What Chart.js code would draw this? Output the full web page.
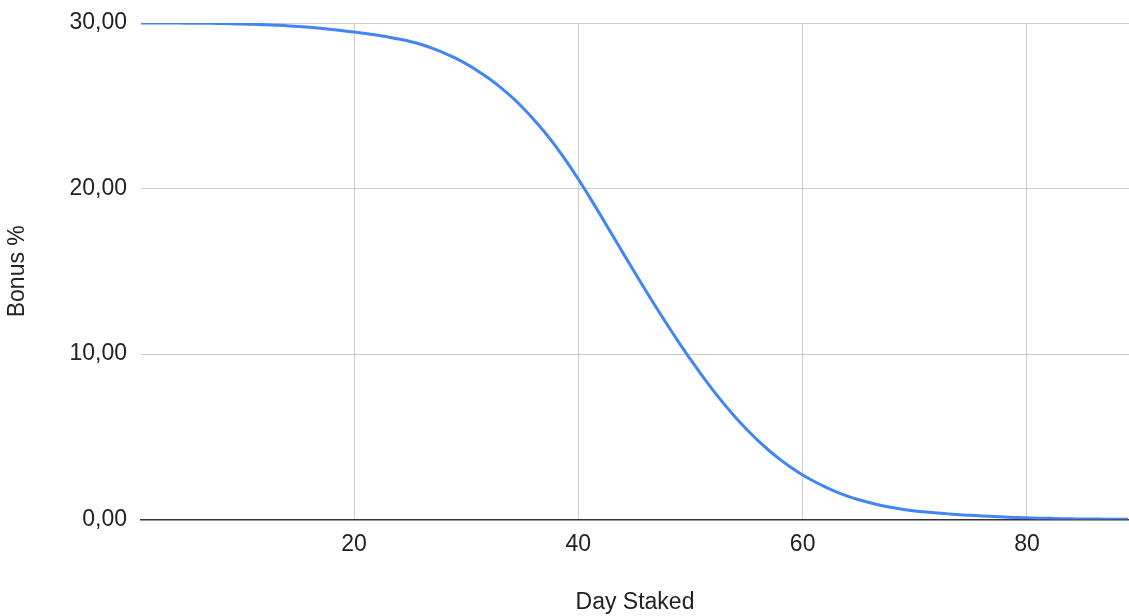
<!DOCTYPE html>
<html>
<head>
<meta charset="utf-8">
<title>Bonus % by Day Staked</title>
<script src="https://cdn.jsdelivr.net/npm/chart.js@4/dist/chart.umd.min.js"></script>
<style>
  html, body { margin: 0; padding: 0; background: #ffffff; }
  #wrap { width: 1129px; height: 616px; }
</style>
</head>
<body>
<div id="wrap"><canvas id="chart" width="1129" height="616"></canvas></div>
<script>
// Day on which the stake was made
const days = [
  1, 2, 3, 4, 5, 6, 7, 8, 9, 10,
  11, 12, 13, 14, 15, 16, 17, 18, 19, 20,
  21, 22, 23, 24, 25, 26, 27, 28, 29, 30,
  31, 32, 33, 34, 35, 36, 37, 38, 39, 40,
  41, 42, 43, 44, 45, 46, 47, 48, 49, 50,
  51, 52, 53, 54, 55, 56, 57, 58, 59, 60,
  61, 62, 63, 64, 65, 66, 67, 68, 69, 70,
  71, 72, 73, 74, 75, 76, 77, 78, 79, 80,
  81, 82, 83, 84, 85, 86, 87, 88, 89
];

// Bonus percentage granted for each staking day
const bonus = [
  30.00, 30.00, 30.00, 30.00, 29.99, 29.99, 29.98, 29.97, 29.96, 29.94,
  29.92, 29.90, 29.87, 29.84, 29.79, 29.74, 29.68, 29.61, 29.53, 29.45,
  29.37, 29.28, 29.16, 29.03, 28.88, 28.70, 28.47, 28.20, 27.89, 27.53,
  27.12, 26.66, 26.14, 25.56, 24.91, 24.19, 23.40, 22.53, 21.58, 20.56,
  19.48, 18.36, 17.22, 16.08, 14.95, 13.84, 12.75, 11.69, 10.66, 9.67,
  8.72, 7.82, 6.97, 6.18, 5.45, 4.78, 4.17, 3.62, 3.13, 2.69,
  2.31, 1.97, 1.67, 1.41, 1.19, 1.01, 0.85, 0.72, 0.61, 0.52,
  0.45, 0.39, 0.34, 0.29, 0.25, 0.21, 0.18, 0.15, 0.12, 0.10,
  0.08, 0.07, 0.05, 0.04, 0.03, 0.03, 0.02, 0.02, 0.01
];

// Axis ticks
const xTicks = [20, 40, 60, 80];
const yTicks = [0, 10, 20, 30];

const seriesName = 'Bonus %';
const xTitle = 'Day Staked';
const yTitle = 'Bonus %';

const FONT = '"Liberation Sans", Arial, sans-serif';
const TEXT = '#222222';
const GRID = '#cccccc';

const points = days.map((d, i) => ({ x: d, y: bonus[i] }));

new Chart(document.getElementById('chart'), {
  type: 'line',
  data: {
    datasets: [{
      label: seriesName,
      data: points,
      borderColor: '#4285F4',
      backgroundColor: '#4285F4',
      borderWidth: 3,
      pointRadius: 0,
      pointHoverRadius: 0,
      cubicInterpolationMode: 'monotone',
      fill: false
    }]
  },
  options: {
    responsive: false,
    animation: false,
    devicePixelRatio: 1,
    layout: { padding: { top: 23, left: 0, right: 0, bottom: 0 } },
    plugins: {
      legend: { display: false },
      tooltip: { enabled: false }
    },
    scales: {
      x: {
        type: 'linear',
        min: 1,
        max: 89.1,
        afterBuildTicks: (scale) => { scale.ticks = xTicks.map(v => ({ value: v })); },
        afterFit: (scale) => { scale.height = 96.5; },
        grid: { color: GRID, lineWidth: 1, drawTicks: false },
        border: { display: true, color: '#333333', width: 1.5 },
        ticks: {
          padding: 11,
          color: TEXT,
          font: { family: FONT, size: 23 },
          maxRotation: 0,
          callback: (v) => String(v)
        },
        title: {
          display: true,
          text: xTitle,
          color: TEXT,
          font: { family: FONT, size: 23 },
          padding: { top: 0, bottom: 0 }
        }
      },
      y: {
        type: 'linear',
        min: 0,
        max: 30,
        afterBuildTicks: (scale) => { scale.ticks = yTicks.map(v => ({ value: v })); },
        afterFit: (scale) => {
          scale.width = 141;
          // plot edges are set by the layout padding, not by label overhang
          scale.paddingTop = 0;
          scale.paddingBottom = 0;
        },
        grid: {
          color: (ctx) => (ctx.tick && ctx.tick.value === 0 ? 'rgba(0,0,0,0)' : GRID),
          lineWidth: 1,
          drawTicks: false
        },
        border: { display: false },
        ticks: {
          padding: 14,
          color: TEXT,
          font: { family: FONT, size: 23 },
          callback: (v) => Number(v).toFixed(2).replace('.', ',')
        },
        title: {
          display: true,
          text: yTitle,
          color: TEXT,
          font: { family: FONT, size: 23 },
          padding: { top: 4, bottom: 0 }
        }
      }
    }
  }
});
</script>
</body>
</html>
